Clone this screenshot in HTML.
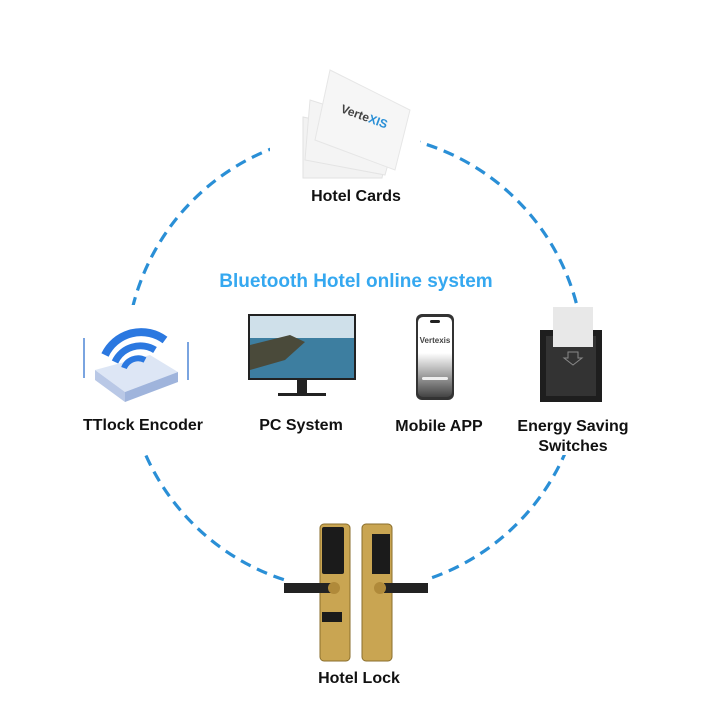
<!DOCTYPE html>
<html><head><style>
body{margin:0;width:720px;height:720px;background:#fff;overflow:hidden;font-family:"Liberation Sans",sans-serif}
</style></head><body>
<svg width="720" height="720" viewBox="0 0 720 720">
<defs><linearGradient id="pg" x1="0" y1="0" x2="0" y2="1"><stop offset="0.45" stop-color="#fff"/><stop offset="1" stop-color="#444"/></linearGradient></defs>
<circle cx="355" cy="362" r="229" fill="none" stroke="#2a8fd6" stroke-width="3.2" stroke-dasharray="11 7"/>
<rect x="270" y="60" width="150" height="160" fill="#fff"/>
<rect x="60" y="305" width="160" height="145" fill="#fff"/>
<rect x="500" y="305" width="150" height="150" fill="#fff"/>
<rect x="288" y="500" width="140" height="200" fill="#fff"/>
<g>
<polygon points="303,117 390,135 382,178 303,178" fill="#f2f2f2" stroke="#e2e2e2"/>
<polygon points="310,100 398,128 385,175 305,160" fill="#f4f4f4" stroke="#e4e4e4"/>
<polygon points="330,70 410,110 395,170 315,140" fill="#f6f6f6" stroke="#e6e6e6"/>
<text x="340" y="112" font-size="12" font-weight="bold" fill="#444" transform="rotate(20 340 112)">Verte<tspan fill="#2a8fd6">XIS</tspan></text>
</g>
<text x="356" y="201" font-size="16" font-weight="bold" text-anchor="middle" fill="#111">Hotel Cards</text>
<text x="356" y="287" font-size="19" font-weight="bold" text-anchor="middle" fill="#35a8f0">Bluetooth Hotel online system</text>
<g>
<polygon points="95,370 150,355 178,372 125,392" fill="#dde6f5"/>
<polygon points="95,370 125,392 125,402 95,380" fill="#b9c8e6"/>
<polygon points="125,392 178,372 178,382 125,402" fill="#9fb4dc"/>
<line x1="84" y1="338" x2="84" y2="378" stroke="#7aa4e0" stroke-width="2"/>
<line x1="188" y1="342" x2="188" y2="380" stroke="#7aa4e0" stroke-width="2"/>
<path d="M105,355 A40,40 0 0 1 165,340" fill="none" stroke="#2b78e0" stroke-width="8"/>
<path d="M115,362 A28,28 0 0 1 155,350" fill="none" stroke="#2b78e0" stroke-width="7"/>
<path d="M124,368 A15,15 0 0 1 145,360" fill="none" stroke="#2b78e0" stroke-width="6"/>
</g>
<text x="143" y="430" font-size="16" font-weight="bold" text-anchor="middle" fill="#111">TTlock Encoder</text>
<rect x="248" y="314" width="108" height="66" fill="#222"/>
<rect x="250" y="316" width="104" height="62" fill="#3d7ea0"/>
<rect x="250" y="316" width="104" height="22" fill="#cfe0ea"/>
<polygon points="250,345 290,335 305,342 285,360 250,370" fill="#4a4a3a"/>
<rect x="297" y="380" width="10" height="14" fill="#222"/>
<rect x="278" y="393" width="48" height="3" fill="#222"/>
<text x="301" y="430" font-size="16" font-weight="bold" text-anchor="middle" fill="#111">PC System</text>
<rect x="416" y="314" width="38" height="86" rx="6" fill="#333"/>
<rect x="418" y="317" width="34" height="80" rx="5" fill="url(#pg)"/>
<rect x="430" y="320" width="10" height="3" rx="1.5" fill="#222"/>
<text x="435" y="343" font-size="8" font-weight="bold" text-anchor="middle" fill="#444">Vertexis</text>
<rect x="422" y="377" width="26" height="3" rx="1.5" fill="#eee"/>
<text x="439" y="431" font-size="16" font-weight="bold" text-anchor="middle" fill="#111">Mobile APP</text>
<rect x="540" y="330" width="62" height="72" fill="#1e1e1e"/>
<rect x="546" y="336" width="50" height="60" fill="#333"/>
<rect x="553" y="307" width="40" height="40" fill="#e8e8e8"/>
<path d="M568,352 h10 v6 h4 l-9,7 l-9,-7 h4z" fill="none" stroke="#888" stroke-width="1"/>
<text x="573" y="431" font-size="16" font-weight="bold" text-anchor="middle" fill="#111">Energy Saving</text>
<text x="573" y="451" font-size="16" font-weight="bold" text-anchor="middle" fill="#111">Switches</text>
<rect x="320" y="524" width="30" height="137" rx="4" fill="#c9a552" stroke="#8a6e2c"/>
<rect x="322" y="527" width="22" height="47" rx="2" fill="#1b1b1b"/>
<rect x="322" y="612" width="20" height="10" fill="#1b1b1b"/>
<rect x="362" y="524" width="30" height="137" rx="4" fill="#c9a552" stroke="#8a6e2c"/>
<rect x="372" y="534" width="18" height="40" fill="#1b1b1b"/>
<rect x="284" y="583" width="52" height="10" fill="#222"/>
<rect x="384" y="583" width="44" height="10" fill="#222"/>
<circle cx="334" cy="588" r="6" fill="#b08a3a"/>
<circle cx="380" cy="588" r="6" fill="#b08a3a"/>
<text x="359" y="683" font-size="16" font-weight="bold" text-anchor="middle" fill="#111">Hotel Lock</text>
</svg>
</body></html>
